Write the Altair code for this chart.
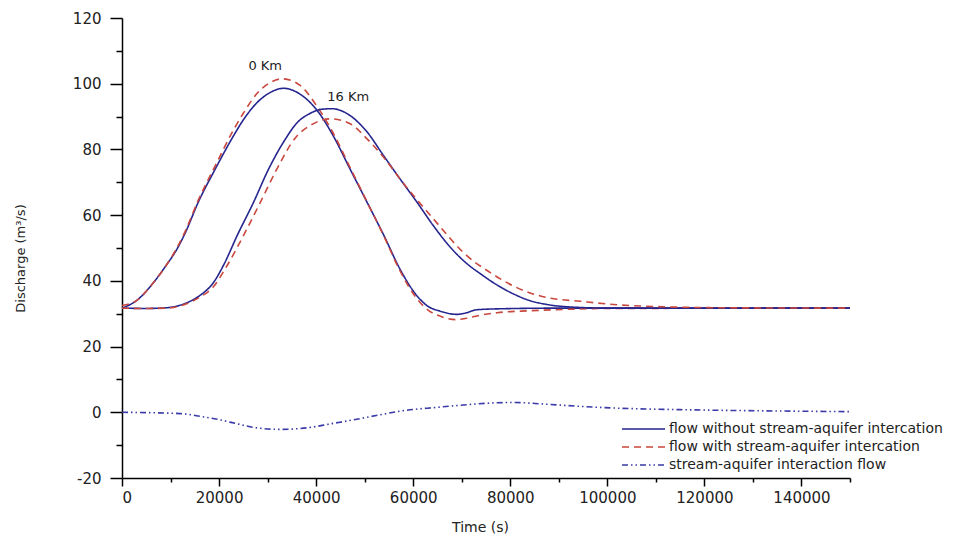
import altair as alt
import pandas as pd

series_labels = [
    "flow without stream-aquifer intercation",
    "flow with stream-aquifer intercation",
    "stream-aquifer interaction flow",
]
series_colors = ["#25258f", "#c9473d", "#3a3aa8"]

# 0 Km, without interaction (blue solid)
b0_t = [0, 3000, 6500, 9000, 11300, 13000, 15700, 19200, 23000, 25000, 27800, 30500, 33300, 36500,
        40500, 43500, 47000, 50500, 54000, 57300, 60800, 63000, 65500, 69000, 71000, 73000, 78000, 90000, 150000]
b0_q = [31.7, 34.0, 39.5, 44.5, 49.6, 54.5, 63.9, 74.0, 84.2, 89.0, 94.2, 97.3, 98.6, 97.0,
        91.3, 84.2, 74.0, 63.9, 53.7, 43.5, 35.4, 32.3, 30.8, 29.8, 30.3, 31.2, 31.5, 31.7, 31.7]

# 0 Km, with interaction (red dashed)
r0_t = [0, 3000, 6500, 9000, 11300, 13000, 15700, 19200, 23000, 25000, 27800, 30500, 33000, 36700,
        40000, 43500, 47000, 50500, 54000, 57300, 60800, 63000, 66000, 68700, 71000, 74000, 77300, 84000,
        91000, 100000, 150000]
r0_q = [32.5, 34.0, 39.5, 44.5, 50.0, 55.0, 64.5, 75.0, 86.0, 91.0, 97.0, 100.3, 101.5, 99.5,
        93.5, 85.0, 74.5, 64.0, 53.5, 43.0, 34.5, 31.2, 29.0, 28.2, 28.6, 29.6, 30.3, 30.9,
        31.3, 31.6, 31.7]

# 16 Km, without interaction (blue solid)
b16_t = [0, 5000, 9000, 13300, 16000, 18800, 21000, 23700, 27100, 30200, 33600, 36000, 38800, 41000, 43200,
         47000, 50500, 53900, 57300, 60800, 64200, 67600, 71100, 74000, 77000, 80700, 84000, 87600,
         94400, 100000, 150000]
b16_q = [31.7, 31.6, 31.8, 33.3, 35.5, 39.4, 45.0, 53.7, 63.9, 74.0, 83.0, 88.0, 91.0, 92.2, 92.4,
         90.3, 85.3, 78.1, 71.0, 63.9, 56.7, 50.3, 45.2, 42.0, 39.0, 36.0, 34.0, 32.8,
         31.9, 31.7, 31.7]

# 16 Km, with interaction (red dashed)
r16_t = [0, 5000, 9000, 13300, 16000, 19000, 21200, 25000, 28500, 31900, 35700, 38800, 42900, 47000,
         50500, 53900, 57300, 64200, 71100, 75900, 80700, 87600, 94400, 101300, 111600, 125000, 150000]
r16_q = [31.7, 31.6, 31.7, 33.0, 35.0, 38.5, 43.5, 53.7, 63.9, 74.0, 83.5, 87.3, 89.3, 87.8,
         83.2, 77.6, 71.0, 58.8, 47.6, 42.5, 38.4, 34.9, 33.8, 32.8, 32.1, 31.8, 31.7]

# stream-aquifer interaction flow (blue dash-dot-dot)
i_t = [0, 12000, 16000, 20200, 24000, 27100, 32600, 38800, 43000, 47700, 53000, 58000, 64900,
       71000, 77300, 80600, 87000, 94400, 101300, 115000, 128800, 150000]
i_q = [0, -0.4, -1.2, -2.3, -3.6, -4.6, -5.2, -4.6, -3.5, -2.3, -0.8, 0.5, 1.5,
       2.3, 2.9, 3.0, 2.5, 1.8, 1.3, 0.8, 0.5, 0.2]

ann_labels = ["0 Km", "16 Km"]
ann_t = [29500, 46600]
ann_q = [105.5, 96.0]

x_major = [0, 20000, 40000, 60000, 80000, 100000, 120000, 140000]
x_minor = [10000, 30000, 50000, 70000, 90000, 110000, 130000, 150000]
y_major = [-20, 0, 20, 40, 60, 80, 100, 120]
y_minor = [-10, 10, 30, 50, 70, 90, 110]

rows = []
for run, s, ts, qs in [("b0", 0, b0_t, b0_q), ("r0", 1, r0_t, r0_q), ("b16", 0, b16_t, b16_q),
                       ("r16", 1, r16_t, r16_q), ("i", 2, i_t, i_q)]:
    for t, q in zip(ts, qs):
        rows.append({"t": t, "q": q, "series": series_labels[s], "run": run})
df = pd.DataFrame(rows)
ann_df = pd.DataFrame({"t": ann_t, "q": ann_q, "label": ann_labels})

FONT = "DejaVu Sans"
xscale = alt.Scale(domain=[0, 150000], nice=False, zero=False)
yscale = alt.Scale(domain=[-20, 120], nice=False, zero=False)

legend = alt.Legend(
    title=None, orient="none", legendX=499, legendY=402, symbolType="stroke",
    symbolSize=1849, symbolStrokeWidth=1.6, labelFont=FONT, labelFontSize=14,
    labelColor="#222222", rowPadding=0, clipHeight=18, labelOffset=3, padding=0,
    labelLimit=0,
)

lines = alt.Chart(df).mark_line(strokeWidth=1.6, interpolate="monotone").encode(
    x=alt.X("t:Q", scale=xscale, axis=alt.Axis(
        values=x_major, title="Time (s)", labelExpr="'' + datum.value", grid=False, domainColor="black",
        domainWidth=1.5, tickColor="black", tickWidth=1.5, tickSize=8, labelPadding=4,
        labelFont=FONT, labelFontSize=15, labelColor="#222222", titleFont=FONT,
        titleFontSize=14, titleFontWeight="normal", titleColor="#222222",
        titleX=358, titleY=49, titleBaseline="middle", titleAlign="center", orient="bottom")),
    y=alt.Y("q:Q", scale=yscale, axis=alt.Axis(
        values=y_major, title="Discharge (m³/s)", labelExpr="'' + datum.value", grid=False,
        domainColor="black",
        domainWidth=1.5, tickColor="black", tickWidth=1.5, tickSize=12, labelPadding=9,
        labelFont=FONT, labelFontSize=15, labelColor="#222222", titleFont=FONT,
        titleFontSize=13, titleFontWeight="normal", titleColor="#222222",
        titleX=-102, titleY=240, titleAngle=270, titleBaseline="middle", titleAlign="center",
        orient="left")),
    color=alt.Color("series:N", scale=alt.Scale(domain=series_labels, range=series_colors), legend=legend),
    strokeDash=alt.StrokeDash("series:N", scale=alt.Scale(
        domain=series_labels, range=[[1, 0], [7, 5], [6, 3, 1.5, 3, 1.5, 3]]), legend=legend),
    detail="run:N",
    order="t:Q",
)

texts = alt.Chart(ann_df).mark_text(font=FONT, fontSize=13, color="#222222", baseline="middle",
                                    align="center").encode(
    x=alt.X("t:Q", scale=xscale, axis=None),
    y=alt.Y("q:Q", scale=yscale, axis=None),
    text="label:N",
)

minor = alt.Chart(df).mark_point(opacity=0).encode(
    x=alt.X("t:Q", scale=xscale, axis=alt.Axis(
        values=x_minor, labels=False, title="", domain=False, grid=False, tickColor="black",
        tickWidth=1.5, tickSize=4, orient="bottom")),
    y=alt.Y("q:Q", scale=yscale, axis=alt.Axis(
        values=y_minor, labels=False, title="", domain=False, grid=False, tickColor="black",
        tickWidth=1.5, tickSize=6, orient="left")),
)

chart = alt.layer(lines, texts, minor).resolve_axis(x="independent", y="independent").properties(
    width=728, height=460,
    autosize=alt.AutoSizeParams(type="none"),
    padding={"left": 114, "top": 10, "right": 115, "bottom": 60},
    background="white",
).configure_view(stroke=None)

chart.save("out.html", embed_options={"renderer": "svg", "actions": False})
